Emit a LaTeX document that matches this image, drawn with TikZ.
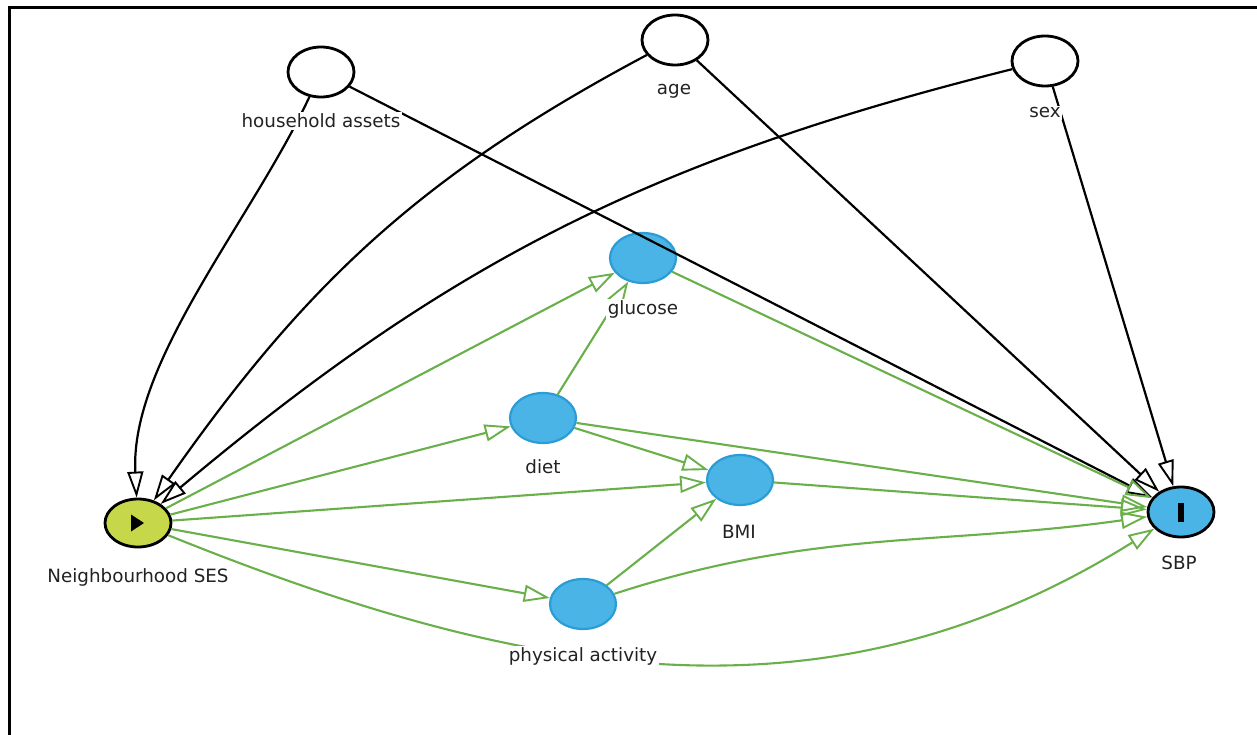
\documentclass[tikz,border=0pt]{standalone}
\usepackage{fontspec}
\setmainfont{DejaVu Sans}
\usetikzlibrary{arrows.meta,shapes.geometric}
\definecolor{edgegreen}{HTML}{6AB04A}
\definecolor{medfill}{HTML}{4AB4E6}
\definecolor{medborder}{HTML}{2A9CD6}
\definecolor{sesfill}{HTML}{C6D84A}
\definecolor{labelgray}{HTML}{222222}
\begin{document}
\begin{tikzpicture}[x=1pt,y=1pt,
  var/.style={ellipse, draw=black, line width=2.8pt, minimum width=66pt, minimum height=50pt, inner sep=0pt, fill=white},
  med/.style={ellipse, draw=medborder, line width=2.2pt, fill=medfill, minimum width=66pt, minimum height=50pt, inner sep=0pt},
  lbl/.style={fill=white, inner sep=1.5pt, text=labelgray, font=\fontsize{18.3}{22}\selectfont},
  blk/.style={draw=black, line width=2.2pt, -{Triangle[open, length=26pt, width=16pt, line width=1.9pt]}},
  grn/.style={draw=edgegreen, line width=2.1pt, -{Triangle[open, length=26pt, width=17pt, line width=1.9pt]}},
]
\useasboundingbox (0,0) rectangle (1257,-735);
\fill[white] (0,0) rectangle (1257,-735);
\draw[line width=3pt] (9,-735) -- (9,-8) -- (1257,-8);

% nodes
\node[var] (ha)  at (321,-72) {};
\node[var] (age) at (675,-40) {};
\node[var] (sex) at (1045,-61) {};
\node[med] (glu) at (643,-258) {};
\node[med] (diet) at (543,-418) {};
\node[med] (bmi) at (740,-480) {};
\node[med] (pa) at (583,-604) {};
\node[ellipse, draw=black, line width=2.8pt, fill=sesfill, minimum width=66pt, minimum height=48pt, inner sep=0pt] (ses) at (138,-523) {};
\node[ellipse, draw=black, line width=2.8pt, fill=medfill, minimum width=66pt, minimum height=50pt, inner sep=0pt] (sbp) at (1181,-512) {};
\fill (ses.center) ++(-7,8.5) -- ++(13,-8.5) -- ++(-13,-8.5) -- cycle;
\fill ([shift={(-3,-9.5)}]sbp.center) rectangle ([shift={(3,9.5)}]sbp.center);

% black edges
\draw[blk] (ha) to[out=-115, in=93, looseness=0.8] (ses);
\draw[blk] (age) to[out=-152, in=55] (ses);
\draw[blk] (sex) to[out=-166, in=40] (ses);
\draw[blk] (ha) -- (sbp);
\draw[blk] (age) -- (sbp);
\draw[blk] (sex) -- (sbp);

% green edges
\draw[grn] (ses) -- (glu);
\draw[grn] (ses) -- (diet);
\draw[grn] (ses) -- (bmi);
\draw[grn] (ses) -- (pa);
\draw[grn] (ses) to[out=-22, in=-148] (sbp);
\draw[grn] (diet) -- (glu);
\draw[grn] (glu) -- (sbp);
\draw[grn] (diet) -- (bmi);
\draw[grn] (diet) -- (sbp);
\draw[grn] (bmi) -- (sbp);
\draw[grn] (pa) -- (bmi);
\draw[grn] (pa) to[out=18, in=-172] (sbp);

% labels
\node[lbl] (hal) at (321,-121) {household assets};
\node[lbl] (agel) at (674,-91) {age};
\node[lbl] (sexl) at (1045,-113) {sex};
\node[lbl] (glul) at (643,-309) {glucose};
\node[lbl] (dietl) at (543,-467) {diet};
\node[lbl] (bmil) at (739,-532) {BMI};
\node[lbl] (pal) at (583,-656) {physical activity};
\node[lbl] (sesl) at (138,-577) {Neighbourhood SES};
\node[lbl] (sbpl) at (1179,-563) {SBP};
\end{tikzpicture}
\end{document}
